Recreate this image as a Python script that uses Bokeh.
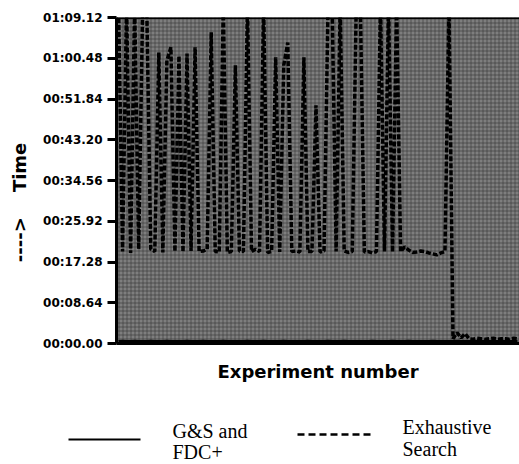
from bokeh.plotting import figure
from bokeh.models import Range1d, FixedTicker, Span, BoxAnnotation
from bokeh.core.properties import value
from bokeh.embed import file_html
from bokeh.resources import INLINE

# ---------------- data ----------------
experiments = list(range(1, 101))

exhaustive_search = [
    72, 19.5, 72, 19.2, 72, 20.0, 72, 72, 20.0, 19.5,
    61.7, 19.3, 60.0, 62.8, 19.5, 61.0, 19.4, 61.5, 19.6, 62.8,
    19.5, 19.6, 20.0, 66.0, 19.5, 19.4, 72, 19.3, 19.5, 59.0,
    19.6, 19.5, 72, 19.5, 20.0, 19.5, 72, 19.3, 19.5, 60.7,
    19.4, 59.0, 63.8, 19.5, 19.6, 19.4, 60.7, 19.5, 19.5, 50.5,
    19.4, 19.6, 72, 72, 19.5, 72, 19.6, 19.3, 19.5, 72,
    72, 19.4, 19.5, 19.2, 19.5, 72, 19.5, 72, 19.4, 72,
    19.5, 20.5, 19.8, 19.3, 19.4, 19.6, 19.5, 19.2, 19.0, 18.8,
    19.2, 19.5, 72, 1.0, 2.3, 1.2, 2.1, 1.0, 0.9, 1.1,
    1.0, 0.9, 1.0, 1.1, 0.9, 1.0, 1.0, 0.9, 1.1, 1.0,
]

gs_and_fdc = [
    0.4, 0.5, 0.4, 0.4, 0.5, 0.4, 0.4, 0.4, 0.5, 0.4,
    0.4, 0.4, 0.5, 0.4, 0.4, 0.4, 0.4, 0.5, 0.4, 0.4,
    0.4, 0.5, 0.4, 0.4, 0.4, 0.4, 0.5, 0.4, 0.4, 0.4,
    0.4, 0.4, 0.5, 0.4, 0.4, 0.4, 0.5, 0.4, 0.4, 0.4,
    0.4, 0.5, 0.4, 0.4, 0.4, 0.4, 0.4, 0.5, 0.4, 0.4,
    0.4, 0.4, 0.5, 0.4, 0.4, 0.4, 0.5, 0.4, 0.4, 0.4,
    0.4, 0.4, 0.4, 0.5, 0.4, 0.4, 0.4, 0.4, 0.5, 0.4,
    0.4, 0.4, 0.5, 0.4, 0.4, 0.4, 0.4, 0.4, 0.5, 0.4,
    0.4, 0.4, 0.4, 0.4, 0.5, 0.4, 0.4, 0.4, 0.4, 0.5,
    0.4, 0.4, 0.4, 0.4, 0.4, 0.5, 0.4, 0.4, 0.4, 0.4,
]

ytick_values = [0, 8.64, 17.28, 25.92, 34.56, 43.20, 51.84, 60.48, 69.12]
ytick_labels = ["00:00.00", "00:08.64", "00:17.28", "00:25.92", "00:34.56",
                "00:43.20", "00:51.84", "01:00.48", "01:09.12"]

series_names = ["G&S and\nFDC+", "Exhaustive\nSearch"]

# ---------------- main chart ----------------
p = figure(width=519, height=384, output_backend="svg", toolbar_location=None,
           x_range=Range1d(0.5, 100.5), y_range=Range1d(0, 69.12),
           min_border_left=116, min_border_right=0, min_border_top=17,
           min_border_bottom=40)
p.outline_line_color = None
p.background_fill_color = "#808080"
p.border_fill_color = "white"
p.xgrid.visible = False
p.ygrid.visible = False

texture = BoxAnnotation(fill_color="#7e7e7e", fill_alpha=1.0,
                        hatch_pattern="+", hatch_color="#333333",
                        hatch_alpha=0.6, hatch_scale=4, hatch_weight=1,
                        line_color=None, level="underlay")
p.add_layout(texture)

p.line(experiments, gs_and_fdc, line_color="black", line_width=3)
p.line(experiments, exhaustive_search, line_color="black", line_width=3.5,
       line_dash="5 2")

p.add_layout(Span(location=69.12, dimension="width", line_color="black",
                  line_width=3))

p.yaxis.ticker = FixedTicker(ticks=ytick_values)
p.yaxis.major_label_overrides = {v: l for v, l in zip(ytick_values, ytick_labels)}
p.yaxis.major_label_text_font = "DejaVu Sans"
p.yaxis.major_label_text_font_style = "bold"
p.yaxis.major_label_text_font_size = "12px"
p.yaxis.major_label_text_color = "black"
p.yaxis.major_tick_out = 9
p.yaxis.major_tick_in = 0
p.yaxis.major_tick_line_width = 3
p.yaxis.major_label_standoff = 5
p.yaxis.minor_tick_line_color = None
p.yaxis.axis_line_width = 3

nb = "\u00a0"
p.yaxis.axis_label = "---->" + nb * 4 + "Time" + nb * 7
p.yaxis.axis_label_text_font = "DejaVu Sans"
p.yaxis.axis_label_text_font_style = "bold"
p.yaxis.axis_label_text_font_size = "18px"
p.yaxis.axis_label_text_color = "black"
p.yaxis.axis_label_standoff = 10

p.xaxis.ticker = FixedTicker(ticks=[])
p.xaxis.minor_tick_line_color = None
p.xaxis.axis_line_width = 3
p.xaxis.axis_label = "Experiment number"
p.xaxis.axis_label_text_font = "DejaVu Sans"
p.xaxis.axis_label_text_font_style = "bold"
p.xaxis.axis_label_text_font_size = "18px"
p.xaxis.axis_label_text_color = "black"
p.xaxis.axis_label_standoff = 17

# ---------------- legend ----------------
leg = figure(width=519, height=80, output_backend="svg", toolbar_location=None,
             x_range=Range1d(0, 519), y_range=Range1d(0, 80),
             min_border=0)
leg.axis.visible = False
leg.grid.visible = False
leg.outline_line_color = None

leg.line([68, 140], [25, 25], line_color="black", line_width=2)
leg.line([297, 370], [30, 30], line_color="black", line_width=2.5,
         line_dash="7 4")

name1 = series_names[0].split("\n")
name2 = series_names[1].split("\n")
leg.text([172, 172], [34, 13], text=name1, text_font=value("Liberation Serif"),
         text_font_size="20px", text_baseline="middle", text_color="black")
leg.text([402, 402], [38, 16], text=name2, text_font=value("Liberation Serif"),
         text_font_size="20px", text_baseline="middle", text_color="black")

open("out.html", "w").write(file_html([p, leg], INLINE))
